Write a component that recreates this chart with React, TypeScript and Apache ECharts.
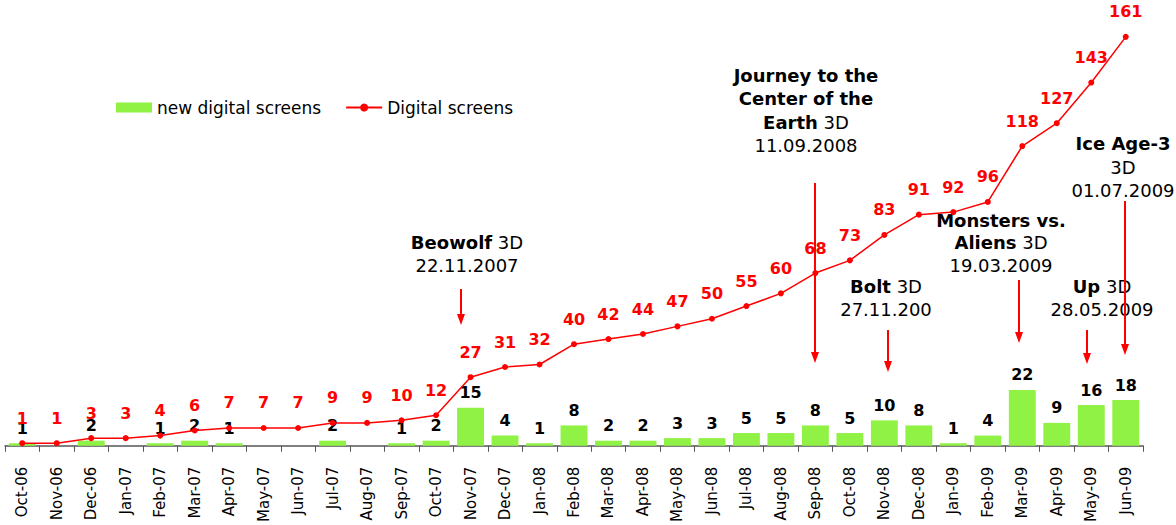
import React, { useEffect, useRef } from "react";
import * as echarts from "echarts";

const categories = [
  "Oct-06", "Nov-06", "Dec-06", "Jan-07", "Feb-07", "Mar-07", "Apr-07", "May-07", "Jun-07",
  "Jul-07", "Aug-07", "Sep-07", "Oct-07", "Nov-07", "Dec-07", "Jan-08", "Feb-08", "Mar-08",
  "Apr-08", "May-08", "Jun-08", "Jul-08", "Aug-08", "Sep-08", "Oct-08", "Nov-08", "Dec-08",
  "Jan-09", "Feb-09", "Mar-09", "Apr-09", "May-09", "Jun-09",
];

const newScreens = [
  1, 0, 2, 0, 1, 2, 1, 0, 0, 2, 0, 1, 2, 15, 4, 1, 8, 2, 2, 3, 3, 5, 5, 8, 5, 10, 8, 1, 4, 22, 9, 16, 18,
];

const totalScreens = [
  1, 1, 3, 3, 4, 6, 7, 7, 7, 9, 9, 10, 12, 27, 31, 32, 40, 42, 44, 47, 50, 55, 60, 68, 73, 83, 91, 92,
  96, 118, 127, 143, 161,
];

// annotation lines: [x, y, boldPart, normalPart]
const annotationTexts: [number, number, string, string][] = [
  [467, 242, "Beowolf", " 3D"],
  [467, 265, "", "22.11.2007"],
  [806, 75, "Journey to the", ""],
  [806, 98, "Center of the", ""],
  [806, 122, "Earth", " 3D"],
  [806, 145, "", "11.09.2008"],
  [1123, 143, "Ice Age-3", ""],
  [1123, 167, "", "3D"],
  [1123, 190, "", "01.07.2009"],
  [1001, 220, "Monsters vs.", ""],
  [1001, 242, "Aliens", " 3D"],
  [1001, 265, "", "19.03.2009"],
  [886, 286, "Bolt", " 3D"],
  [886, 309, "", "27.11.200"],
  [1102, 286, "Up", " 3D"],
  [1102, 309, "", "28.05.2009"],
];

// arrows: [x, yStart, yEnd]
const arrows: [number, number, number][] = [
  [461, 289, 325],
  [815, 183, 363],
  [888, 330, 372],
  [1019, 280, 343],
  [1087, 330, 364],
  [1125, 201, 355],
];

const FONT = "Verdana, 'DejaVu Sans', sans-serif";

export default function App() {
  const ref = useRef<HTMLDivElement>(null);

  useEffect(() => {
    if (!ref.current) return;
    const chart = echarts.init(ref.current, undefined, { renderer: "svg" });

    const graphics: any[] = [];
    annotationTexts.forEach(([x, y, b, n]) => {
      graphics.push({
        type: "text",
        x,
        y,
        style: {
          text: (b ? "{b|" + b + "}" : "") + (n ? "{n|" + n + "}" : ""),
          align: "center",
          verticalAlign: "middle",
          rich: {
            b: { fontFamily: FONT, fontSize: 18, fontWeight: "bold", fill: "#000" },
            n: { fontFamily: FONT, fontSize: 18, fill: "#000" },
          },
        },
      });
    });
    arrows.forEach(([x, y1, y2]) => {
      graphics.push({
        type: "line",
        shape: { x1: x, y1, x2: x, y2: y2 - 8 },
        style: { stroke: "#FF0000", lineWidth: 2 },
      });
      graphics.push({
        type: "polygon",
        shape: { points: [[x - 4, y2 - 11], [x + 4, y2 - 11], [x, y2]] },
        style: { fill: "#FF0000" },
      });
    });

    chart.setOption({
      animation: false,
      textStyle: { fontFamily: FONT },
      legend: {
        left: 111,
        top: 94,
        itemWidth: 36,
        itemHeight: 10,
        itemGap: 24,
        textStyle: { fontFamily: FONT, fontSize: 17, color: "#000" },
        data: [
          { name: "new digital screens", icon: "rect" },
          { name: "Digital screens" },
        ],
      },
      grid: { left: 5, right: 33, top: 14, bottom: 79, containLabel: false },
      xAxis: {
        type: "category",
        data: categories,
        axisLine: { lineStyle: { color: "#555", width: 1.5 } },
        axisTick: { show: true, length: 6, lineStyle: { color: "#555" } },
        axisLabel: {
          rotate: 90,
          margin: 21,
          fontSize: 15,
          fontFamily: FONT,
          color: "#000",
          interval: 0,
        },
      },
      yAxis: {
        type: "value",
        min: 0,
        max: 170,
        show: false,
        splitLine: { show: false },
      },
      series: [
        {
          name: "new digital screens",
          type: "bar",
          data: newScreens,
          barCategoryGap: "22%",
          itemStyle: { color: "#8FF244" },
          label: {
            show: true,
            position: "top",
            distance: 7,
            fontFamily: FONT,
            fontSize: 16,
            fontWeight: "bold",
            color: "#000",
            formatter: (p: any) => (p.value ? String(p.value) : ""),
          },
        },
        {
          name: "Digital screens",
          type: "line",
          data: totalScreens,
          symbol: "circle",
          symbolSize: 6,
          lineStyle: { color: "#FF0000", width: 1.5 },
          itemStyle: { color: "#FF0000" },
          label: {
            show: true,
            position: "top",
            distance: 14,
            fontFamily: FONT,
            fontSize: 16,
            fontWeight: "bold",
            color: "#FF0000",
          },
        },
      ],
      graphic: graphics,
    });

    return () => chart.dispose();
  }, []);

  return (
    <div
      ref={ref}
      style={{ position: "fixed", left: 0, top: 0, width: 1176, height: 525, background: "#fff" }}
    />
  );
}
